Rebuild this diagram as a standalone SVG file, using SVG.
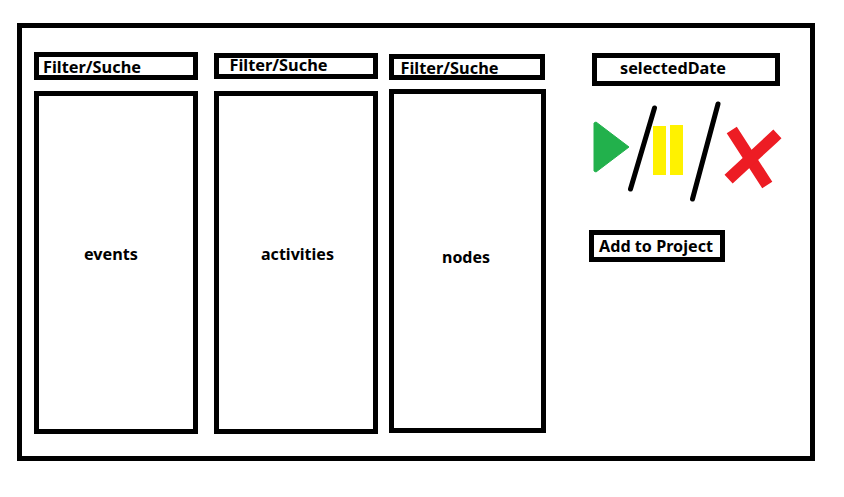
<svg xmlns="http://www.w3.org/2000/svg" width="844" height="497" viewBox="0 0 844 497">
<style>
.b{fill:#fff;stroke:#000;stroke-width:5}
.t{font-family:"Noto Sans","DejaVu Sans",sans-serif;font-weight:700;font-size:16px;fill:#000}
.s{stroke:#000;stroke-width:5;stroke-linecap:round;fill:none}
.x{stroke:#ED1C24;stroke-width:12;stroke-linecap:square;fill:none}
</style>
<rect width="844" height="497" fill="#fff"/>
<g id="frame"><rect class="b" x="19.500" y="25.500" width="793" height="433"/></g>
<g id="filter1"><rect class="b" x="36.500" y="54.500" width="159" height="23"/><text class="t" x="43" y="73" textLength="98" lengthAdjust="spacingAndGlyphs">Filter/Suche</text></g>
<g id="filter2"><rect class="b" x="216.500" y="55.500" width="159" height="21"/><text class="t" x="229.500" y="71" textLength="98" lengthAdjust="spacingAndGlyphs">Filter/Suche</text></g>
<g id="filter3"><rect class="b" x="391.500" y="56.500" width="151" height="21"/><text class="t" x="400.500" y="74" textLength="98" lengthAdjust="spacingAndGlyphs">Filter/Suche</text></g>
<g id="events"><rect class="b" x="36.500" y="93.500" width="159" height="338"/><text class="t" x="84" y="260" textLength="54" lengthAdjust="spacingAndGlyphs">events</text></g>
<g id="activities"><rect class="b" x="216.500" y="93.500" width="159" height="338"/><text class="t" x="261" y="260" textLength="73" lengthAdjust="spacingAndGlyphs">activities</text></g>
<g id="nodes"><rect class="b" x="391.500" y="91.500" width="152" height="339"/><text class="t" x="442" y="263" textLength="48" lengthAdjust="spacingAndGlyphs">nodes</text></g>
<g id="selectedDate"><rect class="b" x="594.500" y="55.500" width="183" height="28"/><text class="t" x="620" y="74" textLength="106" lengthAdjust="spacingAndGlyphs">selectedDate</text></g>
<g id="addToProject"><rect class="b" x="591.500" y="232.500" width="131" height="27"/><text class="t" x="599" y="252" textLength="114" lengthAdjust="spacingAndGlyphs">Add to Project</text></g>
<g id="play"><polygon points="594,123 596,122 629,147 596,172 594,171" fill="#22B14C" stroke="#22B14C" stroke-width="1" stroke-linejoin="round"/></g>
<g id="slash1"><line class="s" x1="654.500" y1="108" x2="630.500" y2="189"/></g>
<g id="pause"><rect x="653" y="126" width="13" height="49" fill="#FFF200"/><rect x="670" y="125" width="13" height="50" fill="#FFF200"/></g>
<g id="slash2"><line class="s" x1="718" y1="104" x2="692.500" y2="199"/></g>
<g id="stop"><line class="x" x1="735" y1="135" x2="764" y2="180"/><line class="x" x1="773" y1="138" x2="733" y2="175"/></g>
</svg>
